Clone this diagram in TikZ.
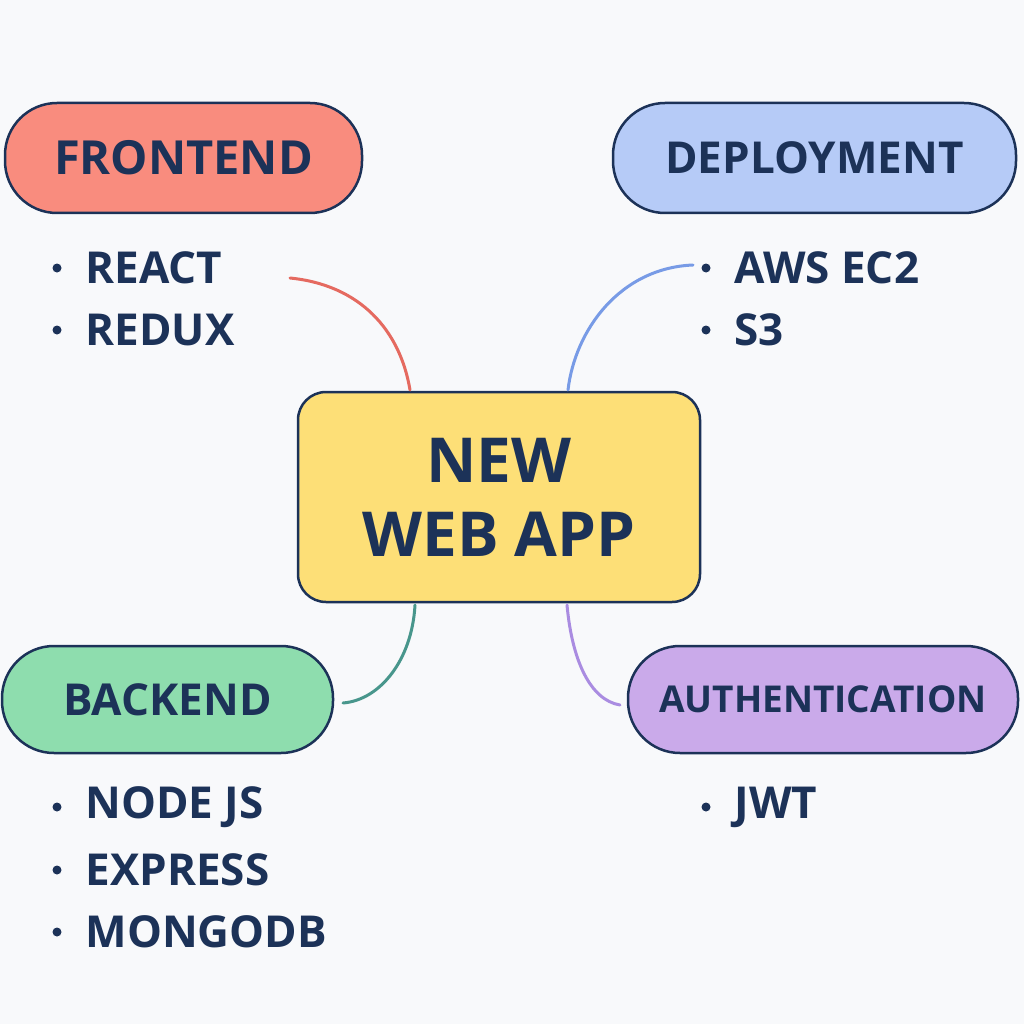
\documentclass[tikz,border=0pt]{standalone}
\usepackage{fontspec}
\setmainfont{Open Sans}
\begin{document}
\begin{tikzpicture}[x=1pt,y=-1pt,
  pill/.style={draw=navy,line width=2.5pt,rounded corners=52pt,inner sep=0pt,font=\bfseries\fontsize{47}{50}\selectfont,text=navy},
  item/.style={anchor=west,font=\bfseries\fontsize{44}{48}\selectfont,text=navy},
  dot/.style={circle,fill=navy,inner sep=0pt,minimum size=9pt},
  conn/.style={line width=3pt,line cap=round}]
\definecolor{navy}{HTML}{1C3258}
\definecolor{bg}{HTML}{F8F9FB}
\fill[bg] (0,0) rectangle (1024,1024);
\useasboundingbox (0,0) rectangle (1024,1024);
\node[pill,fill={rgb,255:red,249;green,140;blue,126},minimum width=357pt,minimum height=110pt] (fe) at (183.5,158) {FRONTEND};
\node[pill,fill={rgb,255:red,182;green,203;blue,247},minimum width=403pt,minimum height=110pt,font=\bfseries\fontsize{44}{48}\selectfont] (de) at (814.5,158) {DEPLOYMENT};
\node[pill,fill={rgb,255:red,142;green,221;blue,174},minimum width=331pt,minimum height=107pt,font=\bfseries\fontsize{44}{48}\selectfont] (be) at (167.5,699.5) {BACKEND};
\node[pill,fill={rgb,255:red,202;green,170;blue,234},minimum width=390pt,minimum height=107pt,font=\bfseries\fontsize{37}{40}\selectfont] (au) at (823,699.5) {AUTHENTICATION};
\node[draw=navy,line width=2.5pt,rounded corners=28pt,fill={rgb,255:red,253;green,223;blue,119},minimum width=402pt,minimum height=210pt,text=navy,align=center,font=\bfseries\fontsize{62}{74}\selectfont] (c) at (499,497) {NEW\\WEB APP};
% bullets
\foreach \n/\x/\y/\t in {r/57/268/REACT,rx/57/330/REDUX,a/706/268/AWS EC2,s/706/330/S3,n/57/807/NODE JS,e/57/870/EXPRESS,m/57/932/MONGODB,j/706/807/JWT}{
  \node[dot] (d\n) at (\x,\y) {};
  \node[item] (t\n) at (\x+25,\y) {\t};
}
\coordinate (f1) at (290,278);
\coordinate (f2) at (693,265);
\coordinate (f3) at (343,703);
\coordinate (f4) at (620,705);
\draw[conn,draw={rgb,255:red,229;green,106;blue,96}] (f1) .. controls (360,285) and (400,330) .. (410,390);
\draw[conn,draw={rgb,255:red,120;green,155;blue,230}] (f2) .. controls (620,268) and (575,330) .. (568,390);
\draw[conn,draw={rgb,255:red,72;green,150;blue,140}] (415,605) .. controls (412,660) and (380,700) .. (f3);
\draw[conn,draw={rgb,255:red,170;green,140;blue,225}] (567,605) .. controls (572,660) and (590,700) .. (f4);
\end{tikzpicture}
\end{document}
